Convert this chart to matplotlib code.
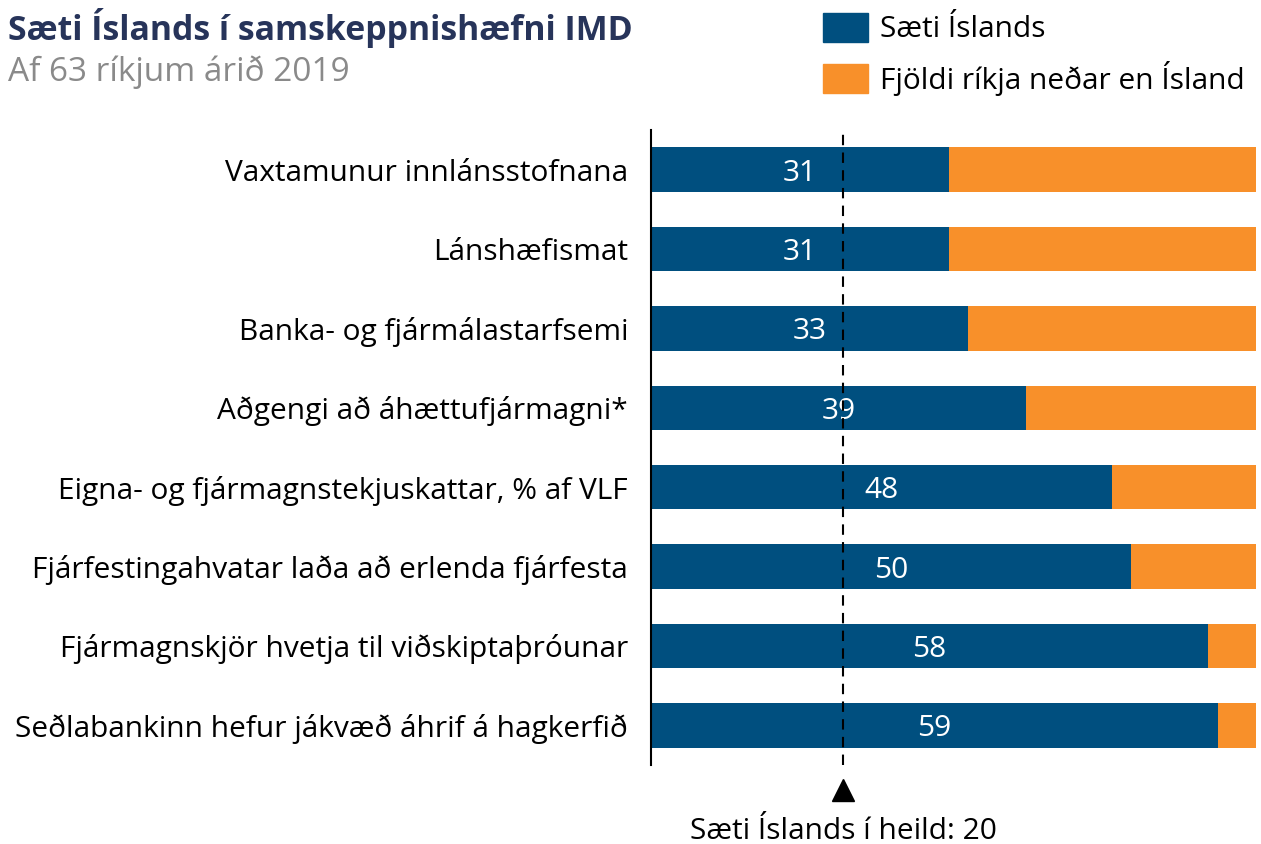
import matplotlib.pyplot as plt
from matplotlib.patches import Patch
from matplotlib.transforms import blended_transform_factory

plt.rcParams['font.family'] = ['Open Sans', 'DejaVu Sans']

categories = [
    'Vaxtamunur innlánsstofnana',
    'Lánshæfismat',
    'Banka- og fjármálastarfsemi',
    'Aðgengi að áhættufjármagni*',
    'Eigna- og fjármagnstekjuskattar, % af VLF',
    'Fjárfestingahvatar laða að erlenda fjárfesta',
    'Fjármagnskjör hvetja til viðskiptaþróunar',
    'Seðlabankinn hefur jákvæð áhrif á hagkerfið',
]
rank = [31, 31, 33, 39, 48, 50, 58, 59]
n_countries = 63
below = [n_countries - r for r in rank]
overall = 20

blue = '#004f7f'
orange = '#f8902a'
fs = 21.5

fig = plt.figure(figsize=(12.61, 8.44), dpi=100)
ax = fig.add_axes([651 / 1261, 79 / 844, 605 / 1261, 635 / 844])

y = list(range(len(categories)))
ax.barh(y, rank, height=0.56, color=blue, label='Sæti Íslands')
ax.barh(y, below, left=rank, height=0.56, color=orange,
        label='Fjöldi ríkja neðar en Ísland')

for i, r in enumerate(rank):
    ax.text(r / 2, i, str(r), ha='center', va='center_baseline',
            color='white', fontsize=fs)

ax.axvline(overall, color='black', linestyle=(0, (5, 3.5)), linewidth=1.5, zorder=3)

ax.set_xlim(0, n_countries)
ax.set_ylim(len(categories) - 0.5, -0.5)
ax.set_yticks(y)
ax.set_yticklabels(categories, fontsize=fs)
ax.tick_params(axis='y', length=0, pad=16.5)
ax.set_xticks([])
for s in ['top', 'right', 'bottom']:
    ax.spines[s].set_visible(False)
ax.spines['left'].set_linewidth(1.5)

tr = blended_transform_factory(ax.transData, ax.transAxes)
ax.plot([overall], [-0.04], marker='^', color='black', markersize=16,
        transform=tr, clip_on=False)
ax.text(overall, -0.105, 'Sæti Íslands í heild: 20', transform=tr,
        ha='center', va='center', fontsize=fs)

fig.text(8 / 1261, 1 - 28 / 844, 'Sæti Íslands í samskeppnishæfni IMD',
         fontsize=24.4, fontweight='bold', color='#27345a', va='center')
fig.text(8 / 1261, 1 - 72 / 844, 'Af 63 ríkjum árið 2019',
         fontsize=24, color='#8a8a8a', va='center')

handles = [Patch(color=blue), Patch(color=orange)]
fig.legend(handles, ['Sæti Íslands', 'Fjöldi ríkja neðar en Ísland'],
           loc='upper left', bbox_to_anchor=(796 / 1261, 1 + 14 / 844),
           frameon=False, fontsize=fs, handlelength=1.5, handleheight=1.1,
           handletextpad=0.4, labelspacing=0.55)

fig.savefig('out.png', dpi=100)
